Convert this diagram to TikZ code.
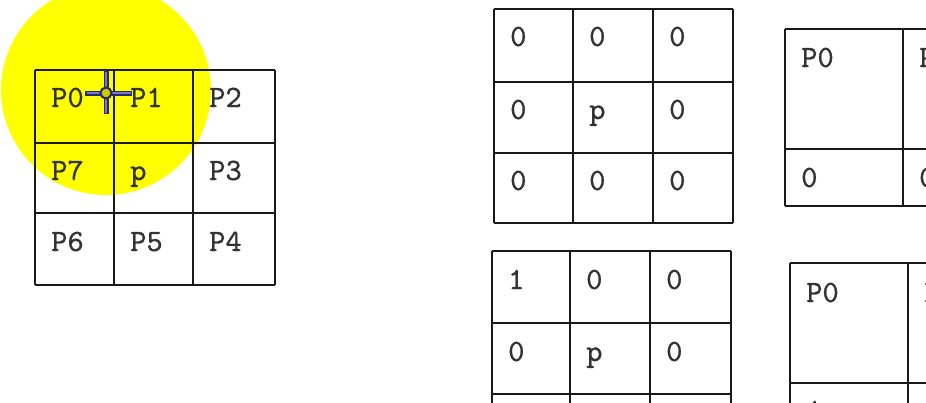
\documentclass[tikz,border=0pt]{standalone}
\usepackage{fontspec}
\newfontfamily\cellfont[FakeBold=0.8]{lmmono10-regular.otf}
\usepackage{tikz}

\definecolor{spot}{RGB}{255,255,0}
\definecolor{cursorrim}{RGB}{40,40,110}
\definecolor{cursorbar}{RGB}{120,120,210}

\tikzset{
  cell/.style={anchor=base west, inner sep=0pt, text=black!80,
               font=\cellfont\fontsize{31}{31}\selectfont},
  gridline/.style={line width=2.2pt, black!90},
}

\begin{document}
\begin{tikzpicture}[x=1pt,y=-1pt]
\clip (0,0) rectangle (926,402);
\fill[white] (0,0) rectangle (926,402);
% yellow spot round the cursor
\fill[spot] (106,90) circle (105);

% left grid
\foreach \x in {35,114,193,275} \draw[gridline] (\x,70) -- (\x,285);
\foreach \y in {70,143,213,285} \draw[gridline] (35,\y) -- (275,\y);
\node[cell] (p0) at (51,107) {P0};
\node[cell] (p1) at (130,107) {P1};
\node[cell] (p2) at (209,107) {P2};
\node[cell] (p7) at (51,180) {P7};
\node[cell] (p) at (130,180) {p};
\node[cell] (p3) at (209,180) {P3};
\node[cell] (p6) at (51,251) {P6};
\node[cell] (p5) at (130,251) {P5};
\node[cell] (p4) at (209,251) {P4};

% cursor
\draw[cursorrim, line width=5pt] (85,93) -- (132,93) (106,70) -- (106,114);
\draw[cursorbar, line width=2pt] (86.5,93) -- (130.5,93) (106,71.5) -- (106,112.5);
\filldraw[fill=spot!80!black, draw=cursorrim, line width=2pt] (106,93) circle (5.5);

% middle grid, top
\foreach \x in {494,573,653,733} \draw[gridline] (\x,9) -- (\x,223);
\foreach \y in {9,82,153,223} \draw[gridline] (494,\y) -- (733,\y);
\node[cell] (a1) at (510,46) {0};
\node[cell] (a2) at (589,46) {0};
\node[cell] (a3) at (669,46) {0};
\node[cell] (a4) at (510,119) {0};
\node[cell] (a5) at (589,119) {p};
\node[cell] (a6) at (669,119) {0};
\node[cell] (a7) at (510,190) {0};
\node[cell] (a8) at (589,190) {0};
\node[cell] (a9) at (669,190) {0};

% middle grid, bottom
\foreach \x in {492,570,650,731} \draw[gridline] (\x,251) -- (\x,420);
\foreach \y in {251,323,394} \draw[gridline] (492,\y) -- (731,\y);
\node[cell] (b1) at (508,289) {1};
\node[cell] (b2) at (586,289) {0};
\node[cell] (b3) at (666,289) {0};
\node[cell] (b4) at (508,361) {0};
\node[cell] (b5) at (586,361) {p};
\node[cell] (b6) at (666,361) {0};

% right grid, top
\foreach \x in {785,903} \draw[gridline] (\x,29) -- (\x,206);
\foreach \y in {29,149,206} \draw[gridline] (785,\y) -- (940,\y);
\node[cell] (c1) at (801,67) {P0};
\node[cell] (c2) at (919,67) {P1};
\node[cell] (c3) at (801,187) {0};
\node[cell] (c4) at (919,187) {0};

% right grid, bottom
\foreach \x in {790,908} \draw[gridline] (\x,263) -- (\x,420);
\foreach \y in {263,383} \draw[gridline] (790,\y) -- (940,\y);
\node[cell] (d1) at (806,302) {P0};
\node[cell] (d2) at (924,302) {P1};
\node[cell] (d3) at (806,420) {1};
\end{tikzpicture}
\end{document}
